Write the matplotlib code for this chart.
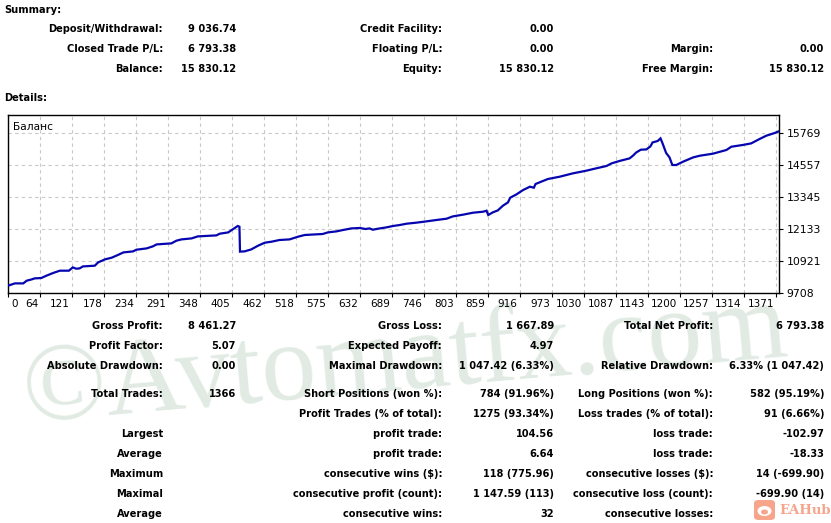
import matplotlib
matplotlib.use("Agg")
import matplotlib.pyplot as plt
from matplotlib.transforms import ScaledTranslation
from matplotlib.patches import FancyBboxPatch, Ellipse

# ---------------- data ----------------
trade_idx = [7, 19, 34, 40, 49, 54, 66, 75, 87, 99, 115, 122, 128, 134, 140, 161, 167, 179, 191, 202,
             212, 229, 235, 253, 264, 271, 297, 306, 315, 333, 344, 377, 383, 398, 407, 415, 418, 419, 427, 439,
             451, 463, 475, 489, 507, 522, 534, 566, 575, 590, 602, 617, 632, 642, 649, 655, 664, 679, 691, 703,
             715, 732, 750, 768, 786, 797, 815, 833, 851, 857, 860, 868, 877, 886, 895, 899, 910, 922, 934, 941,
             944, 954, 966, 987, 1010, 1034, 1049, 1070, 1079, 1093, 1111, 1117, 1123, 1131, 1141, 1148, 1152, 1161, 1166, 1169,
             1176, 1182, 1187, 1194, 1206, 1224, 1236, 1259, 1283, 1292, 1312, 1327, 1342, 1354, 1369, 1376]
balance = [9985, 10072, 10072, 10174, 10223, 10261, 10276, 10363, 10466, 10553, 10553, 10678, 10628, 10640, 10715, 10742, 10867, 10981, 11045, 11147,
           11246, 11284, 11348, 11397, 11473, 11549, 11587, 11689, 11738, 11776, 11852, 11890, 11954, 12003, 12132, 12246, 12219, 11275, 11284, 11359,
           11499, 11613, 11651, 11715, 11738, 11840, 11905, 11943, 12003, 12041, 12094, 12155, 12170, 12132, 12155, 12105, 12143, 12193, 12246, 12284,
           12333, 12371, 12420, 12473, 12522, 12609, 12674, 12749, 12787, 12825, 12662, 12761, 12836, 13014, 13139, 13317, 13442, 13609, 13734, 13696,
           13836, 13923, 14026, 14113, 14238, 14340, 14416, 14518, 14617, 14708, 14806, 14908, 15033, 15135, 15147, 15260, 15412, 15465, 15563, 15412,
           15011, 14844, 14556, 14556, 14681, 14844, 14908, 14984, 15124, 15249, 15314, 15374, 15541, 15666, 15769, 15830]

x_tick_labels = ["0", "64", "121", "178", "234", "291", "348", "405", "462", "518", "575", "632", "689",
                 "746", "803", "859", "916", "973", "1030", "1087", "1143", "1200", "1257", "1314", "1371"]
y_ticks = [9708, 10921, 12133, 13345, 14557, 15769]
series_name = "Баланс"

summary_rows = [
    ["Deposit/Withdrawal:", "9 036.74", "Credit Facility:", "0.00", "", ""],
    ["Closed Trade P/L:", "6 793.38", "Floating P/L:", "0.00", "Margin:", "0.00"],
    ["Balance:", "15 830.12", "Equity:", "15 830.12", "Free Margin:", "15 830.12"],
]
details_rows = [
    ["Gross Profit:", "8 461.27", "Gross Loss:", "1 667.89", "Total Net Profit:", "6 793.38"],
    ["Profit Factor:", "5.07", "Expected Payoff:", "4.97", "", ""],
    ["Absolute Drawdown:", "0.00", "Maximal Drawdown:", "1 047.42 (6.33%)", "Relative Drawdown:", "6.33% (1 047.42)"],
    ["Total Trades:", "1366", "Short Positions (won %):", "784 (91.96%)", "Long Positions (won %):", "582 (95.19%)"],
    ["", "", "Profit Trades (% of total):", "1275 (93.34%)", "Loss trades (% of total):", "91 (6.66%)"],
    ["Largest", "", "profit trade:", "104.56", "loss trade:", "-102.97"],
    ["Average", "", "profit trade:", "6.64", "loss trade:", "-18.33"],
    ["Maximum", "", "consecutive wins ($):", "118 (775.96)", "consecutive losses ($):", "14 (-699.90)"],
    ["Maximal", "", "consecutive profit (count):", "1 147.59 (113)", "consecutive loss (count):", "-699.90 (14)"],
    ["Average", "", "consecutive wins:", "32", "consecutive losses:", ""],
]

# ---------------- layout ----------------
W, H = 831, 523
fig = plt.figure(figsize=(W / 100, H / 100), dpi=100)
fig.patch.set_facecolor("white")

def fx(px):
    return px / W

def fy(py):
    return 1 - py / H

TXT = dict(family="DejaVu Sans", fontsize=7.1, fontweight="bold", color="black", va="center")

# watermark (behind everything)
fig.text(fx(405), fy(362), "©Avtomatfx.com", family="Liberation Serif", fontsize=79,
         color="#e1ebe4", rotation=5, ha="center", va="center", zorder=-1)

# chart axes
ax_l, ax_r, ax_t, ax_b = 8.3, 779, 115, 293
ax = fig.add_axes([fx(ax_l), fy(ax_b), fx(ax_r - ax_l), (ax_b - ax_t) / H], zorder=1)
ax.patch.set_facecolor("white")
ax.patch.set_alpha(0.0)

x_left = 7.4
x_right = 1376.5
ax.set_xlim(x_left, x_right)
ax.set_ylim(9708, 9708 + (ax_b - ax_t) * (1212 / 32))

ax.plot(trade_idx, balance, color="#0606b0", lw=1.6, solid_joinstyle="miter", zorder=3)

tick_pos = [x_left] + [float(v) for v in x_tick_labels[1:]]
ax.set_xticks(tick_pos)
ax.set_xticklabels(x_tick_labels)
ax.set_yticks(y_ticks)
ax.set_yticklabels([str(v) for v in y_ticks])
ax.yaxis.tick_right()

ax.tick_params(axis="x", direction="out", length=3, width=0.8, pad=1.5, labelsize=7.5,
               colors="black")
ax.tick_params(axis="y", direction="out", length=3, width=0.8, pad=2.5, labelsize=7.8,
               colors="black")
for lab in ax.get_xticklabels():
    lab.set_family("DejaVu Sans")
    lab.set_horizontalalignment("right")
    lab.set_transform(lab.get_transform() + ScaledTranslation(-1.5 / 72, 0, fig.dpi_scale_trans))
first = ax.get_xticklabels()[0]
first.set_horizontalalignment("left")
first.set_transform(first.get_transform() + ScaledTranslation(4 / 72, 0, fig.dpi_scale_trans))
for lab in ax.get_yticklabels():
    lab.set_family("DejaVu Sans")

ax.grid(True, color="#c8c8c8", linestyle=(0, (3, 3)), linewidth=0.8)
ax.set_axisbelow(True)
for s in ax.spines.values():
    s.set_color("black")
    s.set_linewidth(1.0)

ax.text(0.006, 0.93, series_name, transform=ax.transAxes, family="DejaVu Sans",
        fontsize=7.7, color="black", ha="left", va="center")

# ---------------- text tables ----------------
fig.text(fx(4), fy(10), "Summary:", ha="left", **TXT)
fig.text(fx(4), fy(98), "Details:", ha="left", **TXT)

col_right = [163, 236, 442, 554, 713, 824]
summary_y = [29, 49, 69]
details_y = [326, 346, 366, 394, 414, 434, 454, 474, 494, 514]

for row, yy in zip(summary_rows, summary_y):
    for txt, xr in zip(row, col_right):
        if txt:
            fig.text(fx(xr), fy(yy), txt, ha="right", **TXT)

for row, yy in zip(details_rows, details_y):
    for txt, xr in zip(row, col_right):
        if txt:
            fig.text(fx(xr), fy(yy), txt, ha="right", **TXT)

# EAHub badge
badge = FancyBboxPatch((fx(754), fy(520)), fx(21), (20 / H), boxstyle="round,pad=0,rounding_size=0.006",
                       transform=fig.transFigure, facecolor="#f6a58b", edgecolor="none", zorder=5)
fig.patches.append(badge)
face = Ellipse((fx(764.5), fy(511)), fx(14), 10 / H, transform=fig.transFigure,
               facecolor="white", edgecolor="none", zorder=6)
fig.patches.append(face)
snout = Ellipse((fx(764.5), fy(512)), fx(7), 5 / H, transform=fig.transFigure,
                facecolor="#f6a58b", edgecolor="none", zorder=7)
fig.patches.append(snout)
fig.text(fx(779), fy(511), "EAHub", family="DejaVu Serif", fontsize=9.5, fontweight="bold",
         color="#f6a58b", ha="left", va="center", zorder=6)

fig.savefig("out.png", dpi=100, facecolor="white")
